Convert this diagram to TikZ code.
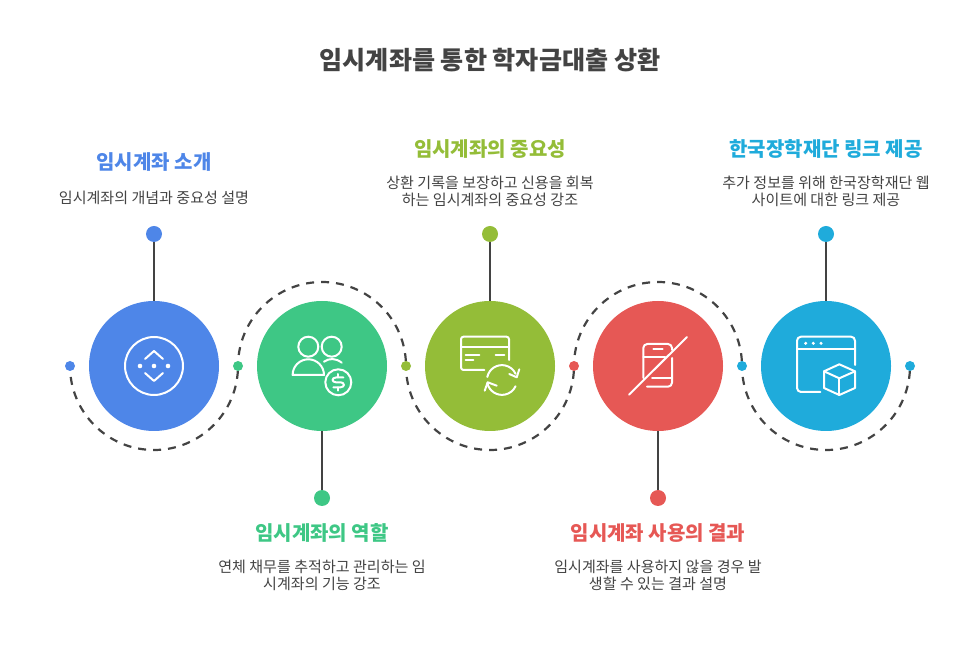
\documentclass[tikz,border=0pt]{standalone}
\usepackage{fontspec}
\setmainfont{Noto Sans CJK KR}
\usepackage{xcolor}
\usetikzlibrary{positioning,calc,backgrounds}
\definecolor{inkgray}{HTML}{434343}
\definecolor{stepblue}{HTML}{4E86E8}
\definecolor{stepgreen}{HTML}{3EC785}
\definecolor{stepolive}{HTML}{94BD38}
\definecolor{stepred}{HTML}{E65855}
\definecolor{stepcyan}{HTML}{1FABDB}
\tikzset{
  disc/.style={circle, minimum size=130pt, inner sep=0pt, fill=#1},
  joint/.style={circle, minimum size=10pt, inner sep=0pt, fill=#1},
  pin/.style={circle, minimum size=16pt, inner sep=0pt, fill=#1},
  stem/.style={draw=inkgray, line width=2.2pt},
  trail/.style={draw=inkgray, line width=2.2pt, dash pattern=on 8pt off 7pt, dash phase=4pt},
  glyph/.style={draw=white, line width=2pt, line cap=round, line join=round},
  heading/.style={text=#1, font=\fontsize{20}{24}\selectfont\bfseries, inner sep=0pt},
  blurb/.style={text=inkgray, font=\fontsize{15.05}{17.2}\selectfont, align=center, inner sep=0pt}
}
\begin{document}
\begin{tikzpicture}[x=1pt, y=1pt]
    \useasboundingbox (0,0) rectangle (979,653);

    % Title
    \node[text=inkgray, font=\fontsize{25.1}{30}\selectfont\bfseries, inner sep=0pt] (title) at (490,593) {임시계좌를 통한 학자금대출 상환};

    % Dots on the winding line
    \node[joint=stepblue] (jointa) at (70,287) {};
    \node[joint=stepgreen] (jointb) at (238,287) {};
    \node[joint=stepolive] (jointc) at (406,287) {};
    \node[joint=stepred] (jointd) at (574,287) {};
    \node[joint=stepcyan] (jointe) at (742,287) {};
    \node[joint=stepcyan] (jointf) at (910,287) {};

    % Winding line
    \begin{scope}[on background layer]
        \draw[trail] (jointa.center) arc[start angle=180, end angle=360, radius=84];
        \draw[trail] (jointb.center) arc[start angle=180, end angle=0, radius=84];
        \draw[trail] (jointc.center) arc[start angle=180, end angle=360, radius=84];
        \draw[trail] (jointd.center) arc[start angle=180, end angle=0, radius=84];
        \draw[trail] (jointe.center) arc[start angle=180, end angle=360, radius=84];
    \end{scope}

    % Big circles
    \node[disc=stepblue] (intro) at (154,287) {};
    \node[disc=stepgreen] (role) at (322,287) {};
    \node[disc=stepolive] (value) at (490,287) {};
    \node[disc=stepred] (result) at (658,287) {};
    \node[disc=stepcyan] (link) at (826,287) {};

    % Pins
    \node[pin=stepblue] (pinintro) at (154,419) {};
    \node[pin=stepgreen] (pinrole) at (322,155) {};
    \node[pin=stepolive] (pinvalue) at (490,419) {};
    \node[pin=stepred] (pinresult) at (658,155) {};
    \node[pin=stepcyan] (pinlink) at (826,419) {};

    \draw[stem] (pinintro) -- (intro);
    \draw[stem] (pinrole) -- (role);
    \draw[stem] (pinvalue) -- (value);
    \draw[stem] (pinresult) -- (result);
    \draw[stem] (pinlink) -- (link);

    % Labels
    \node[heading=stepblue] (headintro) at (154,491) {임시계좌 소개};
    \node[blurb] (textintro) at (154,455.5) {임시계좌의 개념과 중요성 설명};
    \node[heading=stepgreen] (headrole) at (322,120) {임시계좌의 역할};
    \node[blurb] (textrole) at (322,77.5) {연체 채무를 추적하고 관리하는 임\\시계좌의 기능 강조};
    \node[heading=stepolive] (headvalue) at (490,504) {임시계좌의 중요성};
    \node[blurb] (textvalue) at (490,461.5) {상환 기록을 보장하고 신용을 회복\\하는 임시계좌의 중요성 강조};
    \node[heading=stepred] (headresult) at (658,120) {임시계좌 사용의 결과};
    \node[blurb] (textresult) at (658,77.5) {임시계좌를 사용하지 않을 경우 발\\생할 수 있는 결과 설명};
    \node[heading=stepcyan] (headlink) at (826,504) {한국장학재단 링크 제공};
    \node[blurb] (textlink) at (826,461.5) {추가 정보를 위해 한국장학재단 웹\\사이트에 대한 링크 제공};

    % Icon: circle with arrows
    \begin{scope}[shift={(intro.center)}]
        \draw[glyph] (0,0) circle (29);
        \draw[glyph] (-9,7) -- (0,15) -- (9,7);
        \draw[glyph] (-9,-7) -- (0,-15) -- (9,-7);
        \fill[white] (-14,0) circle (2.3) (0,0) circle (2.3) (14,0) circle (2.3);
    \end{scope}

    % Icon: people and coin
    \begin{scope}[shift={(role.center)}]
        \draw[glyph] (-13.7,19.3) circle (10);
        \draw[glyph] (9.7,19.3) circle (10);
        \draw[glyph] (-29.4,-9) arc[start angle=180, end angle=0, radius=15.7] -- cycle;
        \draw[glyph] (2,4.3) .. controls (7,8) and (14,8) .. (19.7,3.3);
        \draw[glyph] (16.3,-16.3) circle (13);
        \draw[glyph] (21.3,-11.5) -- (14,-11.5) .. controls (9.5,-11.5) and (9.5,-16.3) .. (14,-16.3) -- (18.5,-16.3) .. controls (23,-16.3) and (23,-21.3) .. (18.5,-21.3) -- (11.3,-21.3);
        \draw[glyph] (16.3,-8) -- (16.3,-11.5);
        \draw[glyph] (16.3,-21.3) -- (16.3,-24.6);
    \end{scope}

    % Icon: card with refresh
    \begin{scope}[shift={(value.center)}]
        \draw[glyph, rounded corners=2.5pt] (-5.7,-4) -- (-29,-4) -- (-29,29.3) -- (19,29.3) -- (19,6);
        \draw[glyph] (-29,18.7) -- (19,18.7);
        \draw[glyph] (-24.3,11.3) -- (-10.7,11.3);
        \draw[glyph] (-24.3,6.3) -- (-16.7,6.3);
        \draw[glyph] (5.7,11.3) -- (14.3,11.3);
        \draw[glyph] (-2.7,-11) arc[start angle=168, end angle=25, radius=15];
        \draw[glyph] (-2.7,-17) arc[start angle=192, end angle=335, radius=15];
        \draw[glyph] (29.3,-3.3) -- (26.7,-11.3) -- (19.3,-8);
        \draw[glyph] (-5.3,-24.7) -- (-2.3,-16.3) -- (6.7,-19.7);
    \end{scope}

    % Icon: phone crossed out
    \begin{scope}[shift={(result.center)}]
        \draw[glyph] (-14.7,-12) -- (-14.7,18) arc[start angle=180, end angle=90, radius=4] -- (10,22) arc[start angle=90, end angle=0, radius=4] -- (14,16);
        \draw[glyph] (-14.7,9) -- (7,9);
        \draw[glyph] (-4.7,16.7) -- (4.7,16.7);
        \draw[glyph] (14,8) -- (14,-16.7) arc[start angle=0, end angle=-90, radius=4] -- (-11,-20.7);
        \draw[glyph] (-6,-12) -- (14,-12);
        \draw[glyph] (-29,-28.7) -- (29,29);
    \end{scope}

    % Icon: browser window with box
    \begin{scope}[shift={(link.center)}]
        \draw[glyph, rounded corners=4pt] (-5.7,-26) -- (-29,-26) -- (-29,29.3) -- (29,29.3) -- (29,1);
        \draw[glyph] (-29,17) -- (29,17);
        \fill[white] (-20.3,22.7) circle (1.7) (-12.7,22.7) circle (1.7) (-5,22.7) circle (1.7);
        \draw[glyph] (13.3,1.7) -- (29,-5.3) -- (29,-22) -- (13.3,-29) -- (-2,-22) -- (-2,-5.3) -- cycle;
        \draw[glyph] (-2,-5.3) -- (13.3,-12.3) -- (29,-5.3);
        \draw[glyph] (13.3,-12.3) -- (13.3,-29);
    \end{scope}
\end{tikzpicture}
\end{document}
